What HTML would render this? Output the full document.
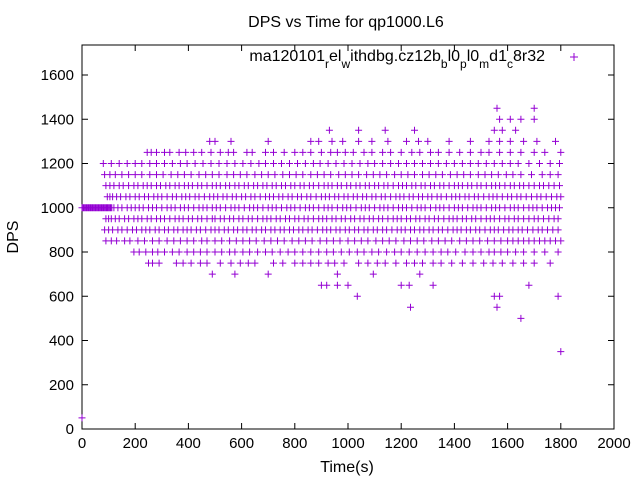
<!DOCTYPE html>
<html><head><meta charset="utf-8"><style>
body{margin:0;background:#fff}
svg text{font-family:"Liberation Sans",sans-serif;fill:#000}
</style></head><body>
<svg id="chart" width="640" height="480" viewBox="0 0 640 480">
<rect width="640" height="480" fill="#fff"/>
<text x="346" y="27" font-size="16" text-anchor="middle">DPS vs Time for qp1000.L6</text>
<g id="axes"></g>
<g id="marks"></g>
<text x="347" y="472" font-size="16" text-anchor="middle">Time(s)</text>
<text transform="translate(18,237) rotate(-90)" font-size="16" text-anchor="middle">DPS</text>
<text x="545" y="61" font-size="16" text-anchor="end">ma120101<tspan baseline-shift="sub" font-size="12">r</tspan>el<tspan baseline-shift="sub" font-size="12">w</tspan>ithdbg.cz12b<tspan baseline-shift="sub" font-size="12">b</tspan>l0<tspan baseline-shift="sub" font-size="12">p</tspan>l0<tspan baseline-shift="sub" font-size="12">m</tspan>d1<tspan baseline-shift="sub" font-size="12">c</tspan>8r32</text>
<path d="M570 57h8M574 53v8" stroke="#9400d3" stroke-width="1"/>
</svg>
<script>
const xTicks=[0,200,400,600,800,1000,1200,1400,1600,1800,2000];
const yTicks=[0,200,400,600,800,1000,1200,1400,1600];
const dpsLevels=[1000,950,1050,900,1100,850,1150,800,1200,750,1250,700,1300,650,1350,600,1400,1450,550,500,350,50];
const timesByLevel=[
"0 4 8 12 16 20 24 28 32 36 40 44 48 52 56 60 64 68 72 76 80 84 88 92 96 100 104 108 112 120 135 150 170 185 200 215 230 250 265 280 300 320 335 350 370 385 400 420 440 455 470 490 505 520 540 560 575 590 610 630 645 660 680 700 715 730 750 770 785 800 820 840 855 870 890 910 925 940 960 980 995 1010 1030 1050 1065 1080 1100 1120 1135 1150 1170 1190 1205 1220 1240 1260 1275 1290 1310 1330 1345 1360 1380 1400 1415 1430 1450 1470 1485 1500 1520 1540 1555 1570 1590 1610 1625 1640 1660 1680 1695 1710 1730 1750 1765 1780 1795",
"90 100 110 125 140 160 175 195 210 225 245 260 280 295 310 330 350 365 380 400 415 435 450 470 490 500 520 535 555 570 590 605 625 640 660 680 695 710 730 745 765 780 800 815 835 850 870 890 905 920 940 955 975 990 1010 1025 1045 1060 1080 1095 1115 1130 1150 1170 1185 1200 1220 1235 1255 1270 1290 1305 1325 1340 1360 1380 1395 1410 1430 1445 1465 1480 1500 1520 1535 1550 1570 1590 1605 1625 1640 1660 1680 1700 1715 1735 1755 1775 1790",
"95 105 115 130 145 165 180 200 215 235 250 270 285 300 320 340 355 375 390 405 425 440 460 480 495 510 530 545 565 580 600 615 635 650 670 690 705 720 740 755 775 790 810 825 845 860 880 900 915 930 950 965 985 1000 1020 1035 1055 1070 1090 1105 1125 1140 1160 1180 1195 1210 1230 1245 1265 1280 1300 1315 1335 1350 1370 1390 1405 1420 1440 1455 1475 1490 1510 1530 1545 1560 1580 1600 1615 1635 1650 1670 1690 1710 1725 1745 1765 1785 1800",
"85 100 115 135 150 170 190 205 225 240 255 275 290 310 325 345 360 380 395 410 430 445 465 485 500 515 535 550 570 585 605 620 640 655 675 690 710 725 745 760 780 795 815 830 850 865 885 905 920 935 955 970 990 1005 1025 1040 1060 1075 1095 1110 1130 1145 1165 1185 1200 1215 1235 1250 1270 1285 1305 1320 1340 1355 1375 1395 1410 1425 1445 1460 1480 1495 1515 1535 1550 1565 1585 1605 1620 1640 1655 1675 1695 1715 1730 1750 1770 1790",
"90 105 120 140 155 175 195 210 230 245 260 280 295 315 330 350 365 385 400 415 435 450 470 490 505 520 540 555 575 590 610 625 645 660 680 695 715 730 750 765 785 800 820 835 855 870 890 910 925 940 960 975 995 1010 1030 1045 1065 1080 1100 1115 1135 1150 1170 1190 1205 1220 1240 1255 1275 1290 1310 1325 1345 1360 1380 1400 1415 1430 1450 1465 1485 1500 1520 1540 1555 1570 1590 1610 1625 1645 1660 1680 1700 1720 1735 1755 1775 1795",
"90 110 130 160 180 210 235 265 290 320 345 370 395 420 450 470 500 525 555 580 605 630 655 685 710 735 760 790 815 840 865 895 920 945 970 1000 1025 1050 1075 1105 1130 1155 1180 1210 1235 1260 1285 1315 1340 1365 1390 1420 1445 1470 1495 1525 1550 1575 1600 1620 1640 1660 1680 1700 1720 1740 1760 1780 1800",
"85 105 125 150 175 200 225 255 280 305 335 360 385 410 440 465 490 515 545 570 595 620 650 675 700 725 755 780 805 830 860 885 910 935 965 990 1015 1040 1070 1095 1120 1145 1175 1200 1225 1250 1280 1305 1330 1355 1385 1410 1435 1460 1490 1515 1540 1565 1595 1620 1650 1690 1730 1760 1790",
"195 215 240 265 285 310 340 365 395 420 445 470 500 525 555 575 605 630 660 690 715 745 775 800 830 860 890 920 945 975 1005 1035 1060 1090 1115 1145 1175 1200 1230 1260 1290 1320 1350 1375 1405 1440 1470 1500 1530 1550 1575 1600 1630 1660 1700 1740 1790",
"80 110 140 170 200 225 255 280 310 340 370 395 425 455 485 515 545 575 605 635 665 690 720 750 780 810 840 870 895 925 955 985 1015 1045 1075 1100 1130 1160 1190 1220 1250 1280 1310 1340 1370 1400 1430 1460 1490 1520 1550 1580 1610 1640 1680 1720 1760 1795",
"250 265 290 355 380 410 445 470 520 560 595 625 650 720 755 800 830 860 890 925 950 985 1040 1075 1110 1140 1180 1220 1250 1280 1320 1350 1390 1430 1470 1510 1545 1580 1620 1660 1700 1760",
"245 260 280 310 330 365 390 420 450 485 520 550 570 620 640 690 720 760 800 830 860 900 935 960 990 1020 1060 1090 1130 1160 1200 1240 1270 1310 1340 1380 1420 1460 1500 1530 1570 1610 1650 1700 1740 1800",
"490 575 700 960 1095 1270",
"480 500 560 700 860 890 940 980 1040 1090 1150 1220 1265 1300 1380 1460 1530 1570 1610 1660 1710 1780",
"900 920 960 1000 1200 1230 1320 1680",
"930 1040 1140 1250 1550 1580 1630",
"1035 1550 1570 1790",
"1570 1610 1650 1700",
"1560 1700",
"1235 1560",
"1650",
"1800",
"0"
];
const X0=82,X1=614,Y0=429,PY=354/1600;
const xs=v=>X0+(v/2000)*(X1-X0);
const ys=v=>Y0-v*PY;
const NS="http://www.w3.org/2000/svg";
const axes=document.getElementById('axes');
function mk(tag,attrs,parent){const e=document.createElementNS(NS,tag);for(const k in attrs)e.setAttribute(k,attrs[k]);parent.appendChild(e);return e;}
const frame=mk('rect',{x:X0,y:45,width:X1-X0,height:Y0-45,fill:'none',stroke:'#000','stroke-width':1},axes);


xTicks.forEach(t=>{
  const x=xs(t);
  const tk=mk('path',{d:`M${x} ${Y0}v-6M${x} 45v6`,stroke:'#000'},axes);
  
  
  const lb=mk('text',{x:x,y:Y0+19,'font-size':15,'text-anchor':'middle'},axes);
  lb.textContent=t;
  
  
});
yTicks.forEach(t=>{
  const y=ys(t);
  const tk=mk('path',{d:`M${X0} ${y}h6M${X1} ${y}h-6`,stroke:'#000'},axes);
  
  
  const lb=mk('text',{x:X0-8,y:y+5,'font-size':15,'text-anchor':'end'},axes);
  lb.textContent=t;
  
  
});
const marks=document.getElementById('marks');
let d='';
dpsLevels.forEach((lv,i)=>{
  timesByLevel[i].split(' ').forEach(s=>{
    const x=xs(+s),y=ys(lv);
    d+=`M${(x-3.5).toFixed(1)} ${y.toFixed(1)}h7M${x.toFixed(1)} ${(y-3.5).toFixed(1)}v7`;
  });
});
const p=mk('path',{d:d,stroke:'#9400d3','stroke-width':1,fill:'none'},marks);


</script>
</body></html>
